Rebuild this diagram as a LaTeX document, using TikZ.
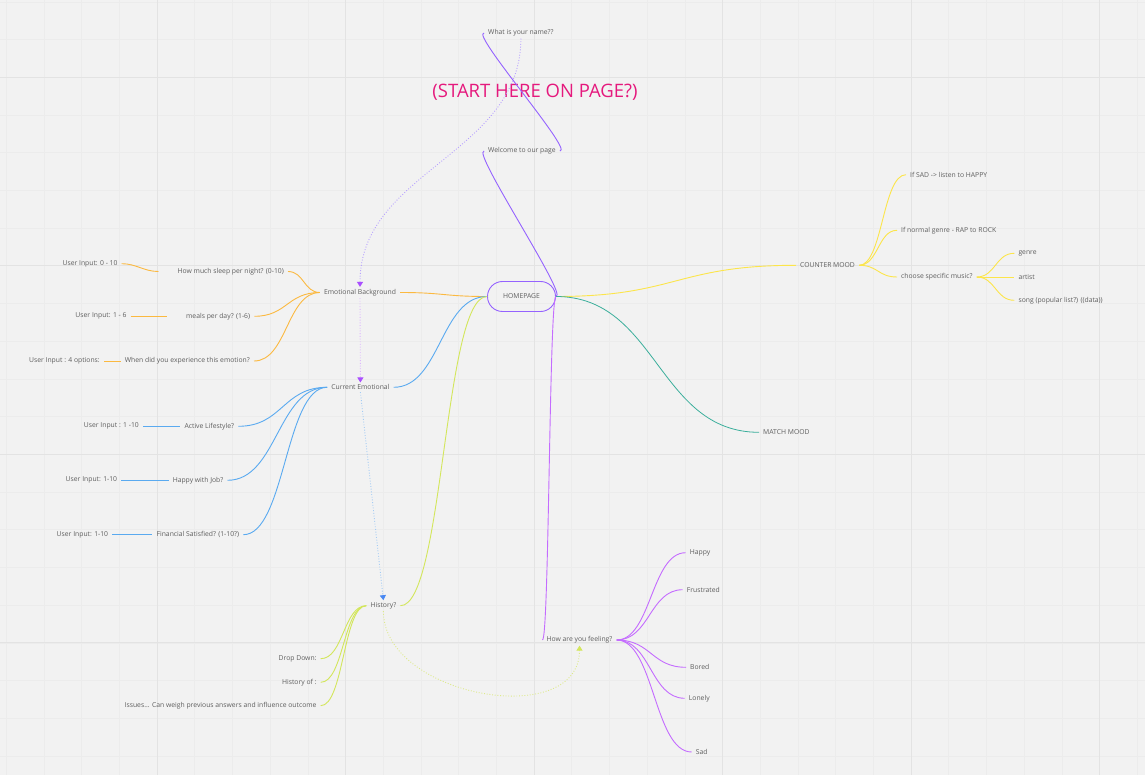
\documentclass[tikz,border=0pt]{standalone}
\usepackage{fontspec}
\setmainfont{Open Sans}
\usepackage{tikz}
\usetikzlibrary{arrows.meta,positioning,calc}
\definecolor{board}{HTML}{F2F2F2}
\definecolor{grid-major}{HTML}{E3E3E3}
\definecolor{grid-minor}{HTML}{ECECEC}
\definecolor{map-text}{HTML}{5E5E5E}
\definecolor{map-violet}{HTML}{9563FF}
\definecolor{map-orchid}{HTML}{C46CFF}
\definecolor{map-orange}{HTML}{FBB940}
\definecolor{map-blue}{HTML}{5AAAF0}
\definecolor{map-lime}{HTML}{D3E65B}
\definecolor{map-yellow}{HTML}{FCE54A}
\definecolor{map-teal}{HTML}{3AAE9B}
\definecolor{map-pink}{HTML}{E5197D}
\definecolor{flow-lilac}{HTML}{B6A0FF}
\definecolor{flow-sky}{HTML}{A3CBF4}
\definecolor{flow-lime}{HTML}{DDEA8A}
\tikzset{
  map-topic/.style={font=\fontsize{6.8}{8}\selectfont, text=map-text, inner xsep=4pt, inner ysep=2pt, yshift=-1pt},
  map-root/.style={font=\fontsize{6.8}{8}\selectfont, text=map-text, draw=map-violet, line width=0.9pt,
    rounded corners=15pt, minimum width=68pt, minimum height=30pt, inner sep=0pt},
  map-link/.style={line width=0.9pt},
  map-curve/.style={map-link, to path={.. controls ($(\tikztostart)!0.5!(\tikztotarget |- \tikztostart)$)
    and ($(\tikztotarget)!0.5!(\tikztostart |- \tikztotarget)$) .. (\tikztotarget)}},
  map-flow/.style={line width=0.9pt, dash pattern=on 0.9pt off 1.8pt},
  map-tip/.style={-{Triangle[width=6pt,length=5pt,color=#1]}}
}

\begin{document}
\begin{tikzpicture}[x=1pt, y=-1pt]
  \fill[board] (0,0) rectangle (1145,775);
  \useasboundingbox (0,0) rectangle (1145,775);
  % board grid
  \foreach \i in {0,...,30} \draw[grid-minor, line width=0.6pt] ({6.2+37.7*\i},0) -- ({6.2+37.7*\i},775);
  \foreach \j in {0,...,20} \draw[grid-minor, line width=0.6pt] (0,{1.9+37.7*\j}) -- (1145,{1.9+37.7*\j});
  \foreach \i in {0,...,5} \draw[grid-major, line width=1pt] ({157+188.5*\i},0) -- ({157+188.5*\i},775);
  \foreach \j in {0,...,3} \draw[grid-major, line width=1pt] (0,{77.3+188.5*\j}) -- (1145,{77.3+188.5*\j});

  % centre
  \node[map-root] (hp) at (521.5,296.5) {HOMEPAGE};
  \node[map-topic, anchor=west] (name) at (484,32) {What is your name??};
  \node[map-topic, anchor=west] (welcome) at (484,150) {Welcome to our page};
  \node[font=\fontsize{18.5}{20}\selectfont, text=map-pink] (start) at (535,92.5) {(START HERE ON PAGE?)};

  % left branches
  \node[map-topic] (eb) at (360,291.5) {Emotional Background};
  \node[map-topic] (ce) at (360.4,386.3) {Current Emotional};
  \node[map-topic] (hi) at (383.4,604.7) {History?};
  \foreach \name/\x/\y/\label in {eba/288/270.5/{How much sleep per night? (0-10)}, ebb/254.3/315.3/{meals per day? (1-6)},
      ebc/254/360/{When did you experience this emotion?}, ua/121.7/262.7/{User Input: 0 - 10},
      ub/130.7/315.3/{User Input: 1 - 6}, uc/104/360/{User Input : 4 options:},
      cea/238.3/425.3/{Active Lifestyle?}, ceb/227.5/479.3/{Happy with Job?}, cec/243.3/533.7/{Financial Satisfied? (1-10?)},
      ud/143/425.3/{User Input : 1 -10}, ue/121.3/479.3/{User Input: 1-10}, uf/112.3/533.7/{User Input: 1-10},
      hia/320.7/657.7/{Drop Down:}, hib/320.7/681.3/{History of :},
      hic/320.7/704.7/{Issues... Can weigh previous answers and influence outcome}} {
    \node[map-topic, anchor=east] (\name) at (\x,\y) {\label};
  }

  % right branches
  \node[map-topic] (feel) at (579.5,639) {How are you feeling?};
  \node[map-topic, anchor=west] (cm) at (796,264.3) {COUNTER MOOD};
  \node[map-topic, anchor=west] (mm) at (759,431.3) {MATCH MOOD};
  \foreach \name/\x/\y/\label in {fa/685.7/551.7/Happy, fb/682.7/588.7/Frustrated, fc/686/666.3/Bored,
      fd/684.7/697.3/Lonely, fe/691.7/751/Sad,
      cma/906/173.7/{If SAD -> listen to HAPPY}, cmb/897/229.3/{If normal genre - RAP to ROCK},
      cmc/897/276/{choose specific music?},
      sa/1014.3/252.3/genre, sb/1014.3/276/artist, sc/1014.3/299.3/{song (popular list?) ((data))}} {
    \node[map-topic, anchor=west] (\name) at (\x,\y) {\label};
  }

  % links
  \draw[map-link, map-violet] (name.west) to[out=180, in=0, looseness=0.25] (welcome.east);
  \draw[map-link, map-violet] (welcome.west) to[out=180, in=0, looseness=0.2] (hp.east);
  \draw[map-curve, map-orange] (hp.west) to (eb.east);
  \draw[map-curve, map-blue] (hp.west) to (ce.east);
  \draw[map-curve, map-lime] (hp.west) to (hi.east);
  \draw[map-curve, map-yellow] (hp.east) to (cm.west);
  \draw[map-curve, map-teal, line width=0.8pt] (hp.east) to (mm.west);
  \draw[map-curve, map-orchid] (hp.east) to (feel.west);
  \foreach \kid in {eba,ebb,ebc} \draw[map-curve, map-orange] (eb.west) to (\kid.east);
  \foreach \kid in {cea,ceb,cec} \draw[map-curve, map-blue] (ce.west) to (\kid.east);
  \foreach \kid in {hia,hib,hic} \draw[map-curve, map-lime] (hi.west) to (\kid.east);
  \foreach \kid in {fa,fb,fc,fd,fe} \draw[map-curve, map-orchid] (feel.east) to (\kid.west);
  \foreach \kid in {cma,cmb,cmc} \draw[map-curve, map-yellow] (cm.east) to (\kid.west);
  \foreach \kid in {sa,sb,sc} \draw[map-curve, map-yellow] (cmc.east) to (\kid.west);
  \draw[map-link, map-orange] (ua.east) to[out=0, in=180] ([xshift=-15pt]eba.west);
  \draw[map-link, map-orange] (ub.east) -- ([xshift=-15pt]ebb.west);
  \draw[map-link, map-orange] (uc.east) -- (ebc.west);
  \draw[map-link, map-blue] (ud.east) -- (cea.west);
  \draw[map-link, map-blue] (ue.east) -- (ceb.west);
  \draw[map-link, map-blue] (uf.east) -- (cec.west);

  % page flow
  \draw[map-flow, flow-lilac, map-tip=map-violet!80!magenta] (name.south) to[out=-90, in=90] (eb.north);
  \draw[map-flow, flow-lilac!80!magenta!60, map-tip=map-violet!80!magenta] (eb.south) -- (ce.north);
  \draw[map-flow, flow-sky, map-tip=map-blue!80!blue] (ce.south) -- (hi.north);
  \draw[map-flow, flow-lime, map-tip=map-lime] (hi.south) to[out=-90, in=-90, looseness=1.1] (feel.south);
\end{tikzpicture}
\end{document}
